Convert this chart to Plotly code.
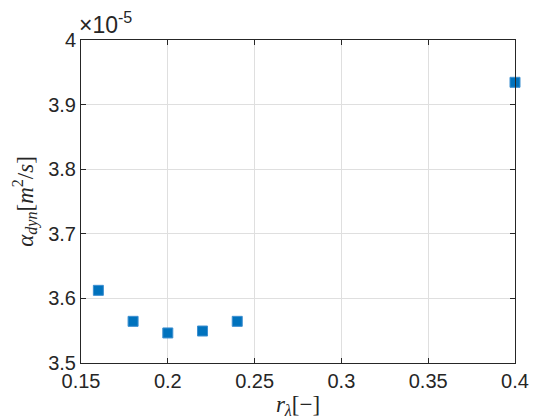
import plotly.graph_objects as go

# data (alpha in units of 1e-5 m^2/s)
r_lambda = [0.16, 0.18, 0.20, 0.22, 0.24, 0.40]
alpha_dyn_e5 = [3.6125, 3.5645, 3.5465, 3.5495, 3.5645, 3.9345]
x_ticks = [0.15, 0.2, 0.25, 0.3, 0.35, 0.4]
x_ticktext = ["0.15", "0.2", "0.25", "0.3", "0.35", "0.4"]
y_ticks = [3.5, 3.6, 3.7, 3.8, 3.9, 4.0]
y_ticktext = ["3.5", "3.6", "3.7", "3.8", "3.9", "4"]

tick_font = dict(family="Liberation Sans, Arial, sans-serif", size=20, color="#262626")
label_font = dict(family="Liberation Serif, DejaVu Serif, serif", size=23, color="#262626")

fig = go.Figure()
fig.add_trace(go.Scatter(
    x=r_lambda,
    y=alpha_dyn_e5,
    mode="markers",
    marker=dict(symbol="square", size=10, color="#0072BD",
                line=dict(width=1, color="#3d8fd0")),
    cliponaxis=False,
    showlegend=False,
))

axis_common = dict(
    showline=True, linecolor="#262626", linewidth=1, mirror="ticks",
    ticks="inside", ticklen=5, tickcolor="#262626",
    showgrid=True, gridcolor="#dfdfdf", gridwidth=1,
    zeroline=False, tickfont=tick_font,
)

fig.update_xaxes(range=[0.15, 0.4], tickvals=x_ticks, ticktext=x_ticktext,
                 title=dict(text="<i>r<sub>λ</sub></i>[−]", font=label_font, standoff=4),
                 **axis_common)
fig.update_yaxes(range=[3.5, 4.0], tickvals=y_ticks, ticktext=y_ticktext,
                 title=dict(text="<i>α<sub>dyn</sub></i>[<i>m</i><sup>2</sup>/<i>s</i>]",
                            font=label_font, standoff=8),
                 **axis_common)

# MATLAB-style exponent label above the y axis
fig.add_annotation(
    x=0, y=1, xref="paper", yref="paper", xanchor="left", yanchor="bottom",
    text="×10<sup>-5</sup>", showarrow=False, yshift=0, xshift=-4,
    font=dict(family="Liberation Sans, Arial, sans-serif", size=23, color="#262626"),
)

fig.update_layout(
    width=560, height=420,
    margin=dict(l=73, r=53, t=32, b=65),
    plot_bgcolor="white", paper_bgcolor="white",
)

fig.write_html("out.html")
